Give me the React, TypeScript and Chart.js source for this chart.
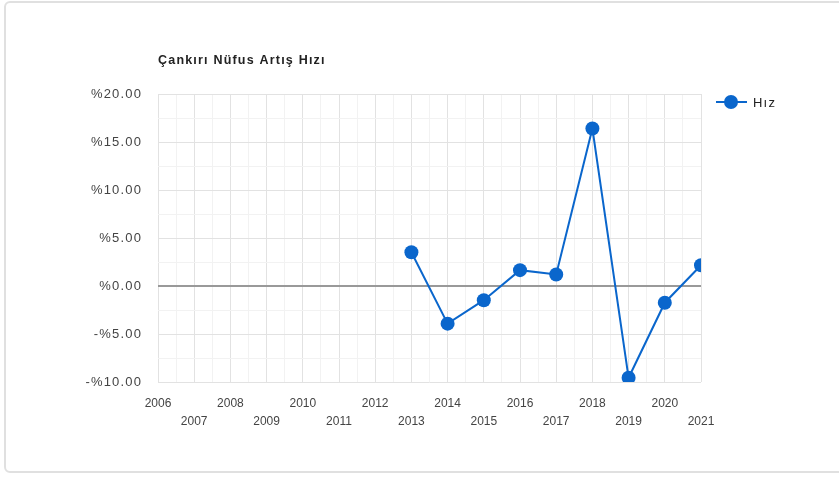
import React, { useEffect, useRef } from "react";
import { Chart, registerables } from "chart.js";

Chart.register(...registerables);

const chartTitle = "Çankırı Nüfus Artış Hızı";
const seriesLabel = "Hız";
const years = [2013, 2014, 2015, 2016, 2017, 2018, 2019, 2020, 2021];
const rates = [3.52, -3.92, -1.48, 1.65, 1.2, 16.4, -9.56, -1.74, 2.16];
const yTickValues = [20, 15, 10, 5, 0, -5, -10];
const xMin = 2006;
const xMax = 2021;
const yMin = -10;
const yMax = 20;

const BLUE = "#0a66cc";
const FONT = "Arial, 'Liberation Sans', sans-serif";

function fmtPct(v: number): string {
  return v < 0 ? "-%" + Math.abs(v).toFixed(2) : "%" + v.toFixed(2);
}

const overlayPlugin = {
  id: "overlay",
  afterDraw(chart: any) {
    const ctx = chart.ctx;
    const area = chart.chartArea;
    const yScale = chart.scales.y;
    ctx.save();
    // y tick labels
    ctx.font = "13px " + FONT;
    ctx.fillStyle = "#444";
    ctx.textBaseline = "middle";
    ctx.textAlign = "right";
    (ctx as any).letterSpacing = "1.2px";
    for (const v of yTickValues) {
      ctx.fillText(fmtPct(v), area.left - 15.8, yScale.getPixelForValue(v) + 0.5);
    }
    // title
    ctx.font = "bold 12.5px " + FONT;
    ctx.fillStyle = "#222";
    ctx.textAlign = "left";
    (ctx as any).letterSpacing = "1.2px";
    ctx.fillText(chartTitle, area.left, 61);
    // legend
    (ctx as any).letterSpacing = "0px";
    const ly = 102;
    ctx.strokeStyle = BLUE;
    ctx.lineWidth = 2;
    ctx.beginPath();
    ctx.moveTo(716, ly);
    ctx.lineTo(747, ly);
    ctx.stroke();
    ctx.fillStyle = BLUE;
    ctx.beginPath();
    ctx.arc(731, ly, 7, 0, Math.PI * 2);
    ctx.fill();
    ctx.font = "13px " + FONT;
    ctx.fillStyle = "#222";
    (ctx as any).letterSpacing = "1.2px";
    ctx.fillText(seriesLabel, 753, ly + 1);
    ctx.restore();
  },
};

export default function App() {
  const ref = useRef<HTMLCanvasElement | null>(null);
  useEffect(() => {
    if (!ref.current) return;
    const chart = new Chart(ref.current, {
      type: "line",
      data: {
        datasets: [
          {
            label: seriesLabel,
            data: years.map((y, i) => ({ x: y, y: rates[i] })),
            borderColor: BLUE,
            backgroundColor: BLUE,
            borderWidth: 2,
            pointRadius: 7,
            pointHoverRadius: 7,
            pointBackgroundColor: BLUE,
            pointBorderWidth: 0,
            tension: 0,
          },
        ],
      },
      options: {
        animation: false,
        responsive: false,
        maintainAspectRatio: false,
        layout: { padding: { left: 0, top: 94, right: 138, bottom: 0 } },
        plugins: {
          legend: { display: false },
          title: { display: false },
          tooltip: { enabled: false },
        },
        scales: {
          x: {
            type: "linear",
            min: xMin,
            max: xMax,
            afterFit(scale: any) {
              scale.height = 95;
            },
            ticks: {
              stepSize: 0.5,
              autoSkip: false,
              maxRotation: 0,
              minRotation: 0,
              padding: 13,
              color: "#444",
              font: { family: FONT, size: 12, lineHeight: "18px" } as any,
              callback(value: any) {
                const v = Number(value);
                if (!Number.isInteger(v)) return "";
                return v % 2 === 0 ? [String(v), ""] : ["", String(v)];
              },
            },
            grid: {
              drawTicks: false,
              color(ctx: any) {
                const v = ctx.tick ? ctx.tick.value : 0;
                return Number.isInteger(v) ? "#e2e2e2" : "#f2f2f2";
              },
              lineWidth: 1,
            },
            border: { display: false },
          },
          y: {
            type: "linear",
            min: yMin,
            max: yMax,
            afterFit(scale: any) {
              scale.width = 158;
            },
            ticks: {
              stepSize: 2.5,
              autoSkip: false,
              padding: 16,
              color: "#444",
              font: { family: FONT, size: 12 },
              callback() {
                return "";
              },
            },
            grid: {
              drawTicks: false,
              color(ctx: any) {
                const v = ctx.tick ? ctx.tick.value : 0;
                if (v === 0) return "#999999";
                return v % 5 === 0 ? "#e2e2e2" : "#f2f2f2";
              },
              lineWidth(ctx: any) {
                const v = ctx.tick ? ctx.tick.value : 1;
                return v === 0 ? 2 : 1;
              },
            },
            border: { display: false },
          },
        },
      },
      plugins: [overlayPlugin],
    });
    return () => chart.destroy();
  }, []);

  return (
    <div style={{ position: "absolute", left: 0, top: 0, width: 839, height: 477, background: "#fff", overflow: "hidden" }}>
      <div
        style={{
          position: "absolute",
          left: 4,
          top: 1,
          width: 850,
          height: 472,
          border: "2px solid #e0e0e0",
          borderRadius: 6,
          boxSizing: "border-box",
        }}
      />
      <canvas ref={ref} width={839} height={477} style={{ position: "absolute", left: 0, top: 0, width: 839, height: 477 }} />
    </div>
  );
}
